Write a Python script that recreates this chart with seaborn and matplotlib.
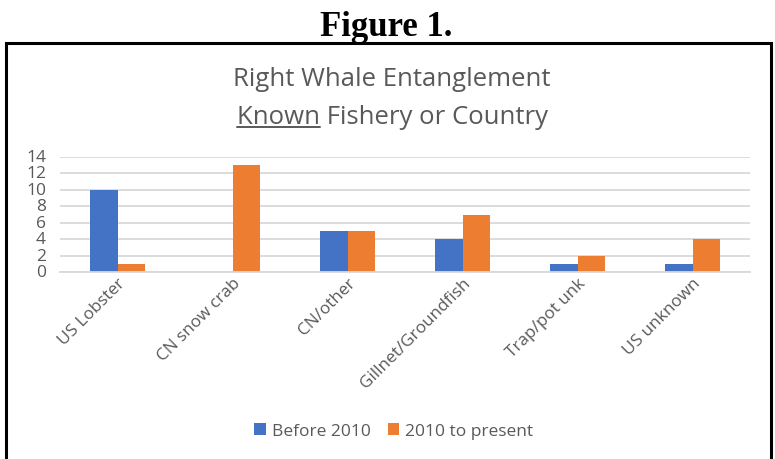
import matplotlib
matplotlib.use("Agg")
import matplotlib.pyplot as plt
import seaborn as sns
import pandas as pd
from matplotlib.patches import Rectangle

categories = ["US Lobster", "CN snow crab", "CN/other", "Gillnet/Groundfish",
              "Trap/pot unk", "US unknown"]
before_2010 = [10, 0, 5, 4, 1, 1]
since_2010 = [1, 13, 5, 7, 2, 4]
series_names = ["Before 2010", "2010 to present"]
y_ticks = [0, 2, 4, 6, 8, 10, 12, 14]

df = pd.DataFrame({
    "Fishery": categories * 2,
    "Count": before_2010 + since_2010,
    "Period": [series_names[0]] * len(categories) + [series_names[1]] * len(categories),
})

sns.set_theme(style="white")
plt.rcParams["font.family"] = ["Open Sans", "DejaVu Sans"]

gray = "#595959"
fig = plt.figure(figsize=(7.75, 4.6), dpi=100)
ax = fig.add_axes([60 / 775, 1 - 273 / 460, 690 / 775, 115 / 460])

sns.barplot(data=df, x="Fishery", y="Count", hue="Period",
            palette=["#4472C4", "#ED7D31"], width=0.48, ax=ax,
            saturation=1, legend=True, linewidth=0)

ax.set_ylim(0, 14)
ax.set_yticks(y_ticks)
ax.set_xlim(-0.5, len(categories) - 0.5)
ax.yaxis.grid(True, color="#D9D9D9", linewidth=1.3)
ax.set_axisbelow(True)
for s in ["top", "right", "left"]:
    ax.spines[s].set_visible(False)
ax.spines["bottom"].set_color("#D9D9D9")
ax.spines["bottom"].set_linewidth(1.3)
ax.set_xlabel("")
ax.set_ylabel("")
ax.tick_params(axis="y", labelsize=12.5, colors=gray, pad=10, length=0)
ax.tick_params(axis="x", labelsize=12.3, colors=gray, pad=2, length=0)
plt.setp(ax.get_xticklabels(), rotation=45, ha="right", rotation_mode="anchor")
for lbl in ax.get_yticklabels():
    lbl.set_verticalalignment("center")

handles, labels = ax.get_legend_handles_labels()
ax.legend_.remove()
fig.legend(handles, labels, loc="center", bbox_to_anchor=(394 / 775, 1 - 432 / 460),
           ncol=2, frameon=False, fontsize=12.5, handlelength=0.65, handleheight=0.65,
           columnspacing=1.0, handletextpad=0.35, labelcolor=gray)

fig.text(386 / 775, 1 - 27 / 460, "Figure 1.", ha="center", va="center",
         fontsize=25, fontweight="bold", family=["Liberation Serif"], color="black")
fig.text(392 / 775, 1 - 80 / 460, "Right Whale Entanglement", ha="center", va="center",
         fontsize=18.5, color=gray)
t2 = fig.text(392 / 775, 1 - 117 / 460, "Known Fishery or Country", ha="center",
              va="center", fontsize=18.5, color=gray)

# underline beneath the word "Known"
fig.canvas.draw()
renderer = fig.canvas.get_renderer()
full = t2.get_window_extent(renderer)
probe = fig.text(0, 0, "Known", fontsize=18.5)
kw = probe.get_window_extent(renderer).width
probe.remove()
x0 = full.x0 / fig.bbox.width
x1 = (full.x0 + kw) / fig.bbox.width
yline = (full.y0 + 2) / fig.bbox.height
fig.add_artist(plt.Line2D([x0, x1], [yline, yline], color=gray, linewidth=1.4,
                          transform=fig.transFigure))

# outer frame around the chart
fig.add_artist(Rectangle((6 / 775, -0.05), 765 / 775, 1 - 44 / 460 + 0.05,
                         transform=fig.transFigure, fill=False,
                         edgecolor="black", linewidth=2.2))

fig.savefig("out.png", dpi=100)
